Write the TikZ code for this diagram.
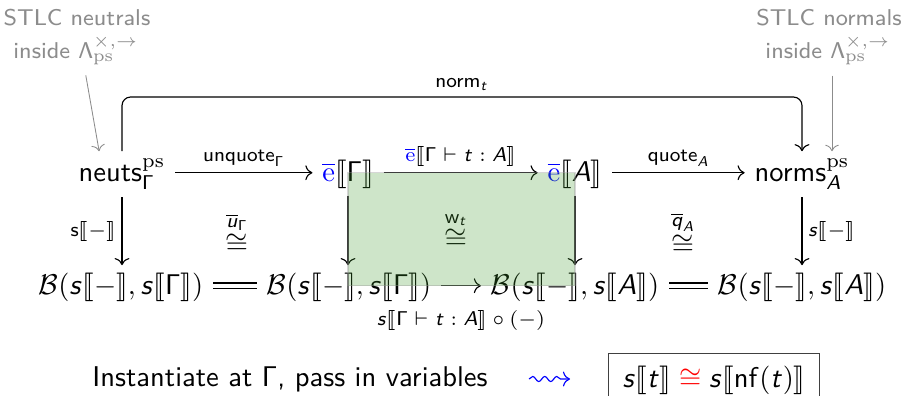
\documentclass[tikz,border=0pt]{standalone}
\usepackage{amsmath,amssymb}
\usepackage{stmaryrd}
\usepackage{xcolor}
\usetikzlibrary{arrows.meta,decorations.pathmorphing}
\renewcommand{\familydefault}{\sfdefault}
% sans letters in math, as on the slides
\DeclareSymbolFont{sfslanted}{OT1}{cmss}{m}{sl}
\DeclareSymbolFont{sfupright}{OT1}{cmss}{m}{n}
\DeclareMathSymbol{s}{\mathalpha}{sfslanted}{`s}
\DeclareMathSymbol{t}{\mathalpha}{sfslanted}{`t}
\DeclareMathSymbol{u}{\mathalpha}{sfslanted}{`u}
\DeclareMathSymbol{q}{\mathalpha}{sfslanted}{`q}
\DeclareMathSymbol{A}{\mathalpha}{sfslanted}{`A}
\DeclareMathSymbol{\Gamma}{\mathalpha}{sfupright}{"00}
\DeclareMathSymbol{\Lambda}{\mathalpha}{sfupright}{"03}
\definecolor{notegray}{RGB}{140,140,140}
\definecolor{cellgreen}{RGB}{60,150,40}
\newcommand{\sem}[1]{\llbracket #1\rrbracket}
\newcommand{\ebar}{\textcolor{blue}{\overline{\mathrm{e}}}}
\newcommand{\Bhom}[1]{\mathcal{B}(s\sem{-},s\sem{#1})}
\newcommand{\axisht}{2.9pt}
\tikzset{
  obj/.style={anchor=base, inner xsep=3.3pt, inner ysep=2.4pt},
  lbl/.style={font=\scriptsize, inner sep=2pt},
  arr/.style={-To, line width=0.4pt},
  eqarr/.style={double, double distance=1.5pt, line width=0.4pt},
  note/.style={anchor=base, font=\footnotesize, text=notegray, inner sep=1pt},
  notearr/.style={-To, draw=notegray, line width=0.3pt},
  cell/.style={fill=cellgreen, fill opacity=0.25, draw=black!40, draw opacity=0.4},
  squig/.style={-To, draw=blue, decorate,
                decoration={snake, amplitude=0.9pt, segment length=4.2pt, post length=1.5pt}}
}
\begin{document}
\begin{tikzpicture}[x=0.35pt, y=-0.35pt]
\useasboundingbox (0,0) rectangle (904,395);
% notes on top
\node[note] (stlcn) at (77,25) {STLC neutrals};
\node[note] (insn) at (76,58) {inside $\Lambda^{\times,\to}_{\mathrm{ps}}$};
\node[note] (stlca) at (829,25) {STLC normals};
\node[note] (insa) at (828,58) {inside $\Lambda^{\times,\to}_{\mathrm{ps}}$};
% top row
\node[obj] (neuts) at (122,181) {$\mathsf{neuts}^{\mathrm{ps}}_{\Gamma}$};
\node[obj] (eG) at (348,181) {$\ebar\sem{\Gamma}$};
\node[obj] (eA) at (575,181) {$\ebar\sem{A}$};
\node[obj] (norms) at (802,181) {$\mathsf{norms}^{\mathrm{ps}}_{A}$};
% bottom row
\node[obj] (B1) at (121,294) {$\Bhom{\Gamma}$};
\node[obj] (B2) at (349,294) {$\Bhom{\Gamma}$};
\node[obj] (B3) at (575,294) {$\Bhom{A}$};
\node[obj] (B4) at (802,294) {$\Bhom{A}$};
% horizontal maps
\draw[arr] ([yshift=\axisht]neuts.base east) -- node[lbl, above] {$\mathsf{unquote}_{\Gamma}$} ([yshift=\axisht]eG.base west);
\draw[arr] ([yshift=\axisht]eG.base east) -- node[lbl, above] {$\ebar\sem{\Gamma\vdash t:A}$} ([yshift=\axisht]eA.base west);
\draw[arr] ([yshift=\axisht]eA.base east) -- node[lbl, above] {$\mathsf{quote}_{A}$} ([yshift=\axisht]norms.base west);
\draw[eqarr] ([yshift=\axisht]B1.base east) -- ([yshift=\axisht]B2.base west);
\draw[arr] ([yshift=\axisht]B2.base east) -- node[lbl, below=6.5pt] {$s\sem{\Gamma\vdash t:A}\circ(-)$} ([yshift=\axisht]B3.base west);
\draw[eqarr] ([yshift=\axisht]B3.base east) -- ([yshift=\axisht]B4.base west);
% vertical maps
\draw[arr] (neuts.south) -- node[lbl, left] {$\mathsf{s}\sem{-}$} (neuts.south |- B1.north);
\draw[arr] (eG.south) -- (eG.south |- B2.north);
\draw[arr] (eA.south) -- (eA.south |- B3.north);
\draw[arr] (norms.south) -- node[lbl, right] {$s\sem{-}$} (norms.south |- B4.north);
% cells
\node (isoU) at (237,232) {$\overset{\overline{u}_{\Gamma}}{\cong}$};
\node (isoW) at (456,230) {$\overset{\mathsf{w}_{t}}{\cong}$};
\node (isoQ) at (683,232) {$\overset{\overline{q}_{A}}{\cong}$};
% norm over the top
\coordinate (normy) at (0,97);
\draw[arr, rounded corners=3pt] (neuts.north) -- (neuts.north |- normy)
  -- node[lbl, above] {$\mathsf{norm}_{t}$} (norms.north |- normy) -- (norms.north);
% notes point down
\draw[notearr, shorten <=2.5pt] ([xshift=3pt]insn.south) -- ([xshift=-8pt]neuts.north);
\draw[notearr, shorten <=2.5pt] ([xshift=1.4pt]insa.south) -- ([xshift=1.4pt]insa.south |- norms.north);
% highlighted square
\path ([yshift=\axisht]eG.base) coordinate (cellnw) ([yshift=\axisht]B3.base) coordinate (cellse);
\draw[cell] (cellnw) rectangle (cellse);
% conclusion
\node[anchor=base] (inst) at (290,386) {Instantiate at $\Gamma$, pass in variables};
\node[anchor=base, draw=black!75, line width=0.4pt, inner xsep=4.9pt, inner ysep=4.2pt] (claim) at (714,387)
  {$s\sem{t}\mathrel{\textcolor{red}{\cong}}s\sem{\mathsf{nf}(t)}$};
\coordinate (sqa) at (529,379);
\coordinate (sqb) at (570,379);
\draw[squig] (sqa) -- (sqb);
\end{tikzpicture}
\end{document}
